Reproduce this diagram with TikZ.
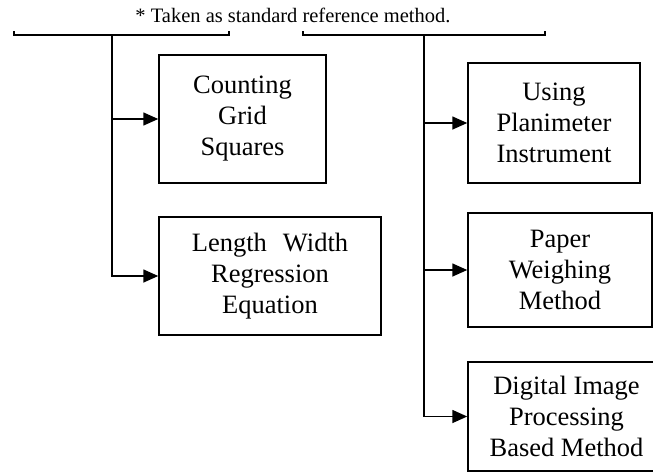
\documentclass[tikz,border=0pt]{standalone}
\usepackage{fontspec}
\setmainfont{Liberation Serif}
\usetikzlibrary{arrows.meta}
\begin{document}
\begin{tikzpicture}[x=1pt,y=-1pt,
  method/.style={draw, line width=1.5pt, align=center, inner sep=0pt,
    font=\fontsize{26.5}{31}\selectfont},
  link/.style={line width=1.6pt},
  feed/.style={link, -{Triangle[length=15pt,width=13pt]}}]
\useasboundingbox (0,0) rectangle (653,472);
\clip (0,0) rectangle (653,472);

% caption above the two groups
\node[font=\fontsize{20.5}{24}\selectfont, anchor=base, inner sep=0pt] (note)
  at (293,22) {* Taken as standard reference method.};

% left group
\node[method, minimum width=167pt, minimum height=128pt] (grid) at (242.5,119)
  {Counting\\Grid\\Squares};
\node[method, minimum width=222pt, minimum height=118pt] (lwr) at (270,276)
  {Length\hspace{16pt}Width\\Regression\\Equation};

% right group
\node[method, minimum width=172pt, minimum height=120pt] (plan) at (554,123)
  {Using\\Planimeter\\Instrument};
\node[method, minimum width=184pt, minimum height=114pt] (paper) at (560,270)
  {Paper\\Weighing\\Method};
\node[method, minimum width=197pt, minimum height=109pt] (dip) at (566.5,416.5)
  {Digital Image\\Processing\\Based Method};

% brackets
\coordinate (la) at (14,31);
\coordinate (lb) at (229,31);
\coordinate (lj) at (112,35);
\coordinate (ra) at (302.7,31);
\coordinate (rb) at (545,31);
\coordinate (rj) at (424,35);

\draw[link] (la) |- (lb |- lj) -- (lb);
\draw[link] (ra) |- (rb |- rj) -- (rb);

% left trunk and branches
\draw[feed] (lj) |- (lwr.west);
\draw[feed] (lj |- grid.west) -- (grid.west);

% right trunk and branches
\draw[feed] (rj) |- (dip.west);
\draw[feed] (rj |- plan.west) -- (plan.west);
\draw[feed] (rj |- paper.west) -- (paper.west);
\end{tikzpicture}
\end{document}
